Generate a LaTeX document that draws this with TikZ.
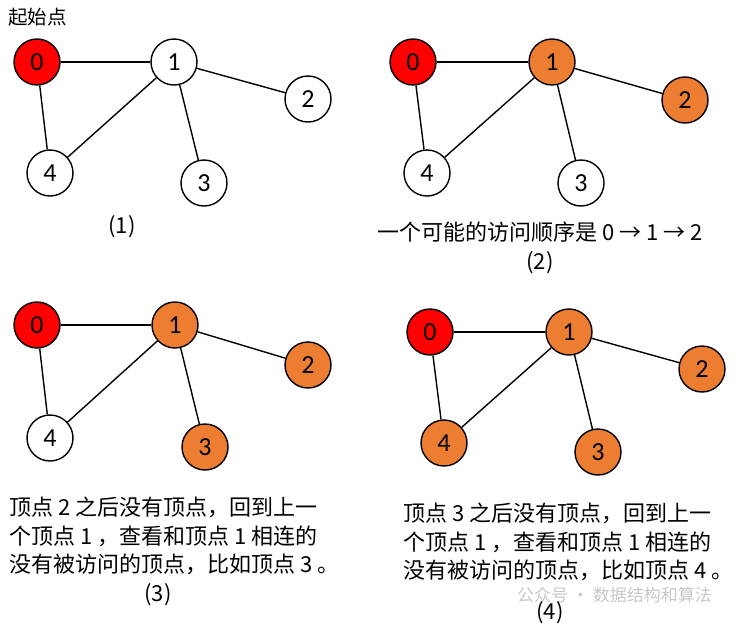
\documentclass[tikz,border=0pt]{standalone}
\usepackage{fontspec}
\setmainfont{Carlito}
\newfontfamily\cjk{Noto Sans CJK SC}
\usepackage{tikz}
\usetikzlibrary{positioning}
\definecolor{myred}{RGB}{255,0,0}
\definecolor{myorange}{RGB}{237,125,49}
\definecolor{mygray}{RGB}{200,200,200}
\tikzset{
  vnode/.style={circle, draw=black, fill=white, line width=1.4pt,
    minimum size=46pt, inner sep=0pt, font=\fontsize{26}{26}\selectfont},
  startnode/.style={vnode, fill=myred},
  donenode/.style={vnode, fill=myorange},
  edge/.style={line width=1.4pt, color=black},
  caption/.style={font=\cjk\fontsize{22}{24}\selectfont, inner sep=0pt},
  notes/.style={font=\cjk\fontsize{22}{28.5}\selectfont, align=left,
    anchor=north west, inner sep=0pt}
}

\begin{document}
\begin{tikzpicture}[x=1pt, y=-1pt]
  \useasboundingbox (0,0) rectangle (736,625);

  % (1) start
  \node[caption, anchor=west, font=\cjk\fontsize{19.5}{20}\selectfont] (start) at (8,17) {起始点};
  \node[startnode] (a0) at (37,62) {0};
  \node[vnode] (a1) at (174,62) {1};
  \node[vnode] (a2) at (308,99) {2};
  \node[vnode] (a3) at (204,183) {3};
  \node[vnode] (a4) at (50,173) {4};
  \draw[edge] (a0) -- (a1);
  \draw[edge] (a0) -- (a4);
  \draw[edge] (a1) -- (a2);
  \draw[edge] (a1) -- (a3);
  \draw[edge] (a1) -- (a4);
  \node[caption] (capa) at (122,227) {(1)};

  % (2) 0 -> 1 -> 2
  \node[startnode] (b0) at (413,62) {0};
  \node[donenode] (b1) at (552,62) {1};
  \node[donenode] (b2) at (685,100) {2};
  \node[vnode] (b3) at (581,183) {3};
  \node[vnode] (b4) at (427,173) {4};
  \draw[edge] (b0) -- (b1);
  \draw[edge] (b0) -- (b4);
  \draw[edge] (b1) -- (b2);
  \draw[edge] (b1) -- (b3);
  \draw[edge] (b1) -- (b4);
  \node[caption] (textb) at (540,232) {一个可能的访问顺序是 0 → 1 → 2};
  \node[caption] (capb) at (540,263) {(2)};

  % (3) back to 1, then 3
  \node[startnode] (c0) at (37,325) {0};
  \node[donenode] (c1) at (175,325) {1};
  \node[donenode] (c2) at (308,365) {2};
  \node[donenode] (c3) at (205,447) {3};
  \node[vnode] (c4) at (50,438) {4};
  \draw[edge] (c0) -- (c1);
  \draw[edge] (c0) -- (c4);
  \draw[edge] (c1) -- (c2);
  \draw[edge] (c1) -- (c3);
  \draw[edge] (c1) -- (c4);
  \node[notes] (textc) at (9,497) {顶点 2 之后没有顶点，回到上一\\个顶点 1 ，查看和顶点 1 相连的\\没有被访问的顶点，比如顶点 3 。};
  \node[caption] (capc) at (158,595) {(3)};

  % (4) back to 1, then 4
  \node[startnode] (d0) at (430,332) {0};
  \node[donenode] (d1) at (569,332) {1};
  \node[donenode] (d2) at (702,369) {2};
  \node[donenode] (d3) at (598,452) {3};
  \node[donenode] (d4) at (444,443) {4};
  \draw[edge] (d0) -- (d1);
  \draw[edge] (d0) -- (d4);
  \draw[edge] (d1) -- (d2);
  \draw[edge] (d1) -- (d3);
  \draw[edge] (d1) -- (d4);
  \node[notes] (textd) at (403,503) {顶点 3 之后没有顶点，回到上一\\个顶点 1 ，查看和顶点 1 相连的\\没有被访问的顶点，比如顶点 4 。};
  \node[caption, text=mygray, anchor=east, font=\cjk\fontsize{17}{18}\selectfont] (mark) at (712,595) {公众号 · 数据结构和算法};
  \node[caption] (capd) at (550,613) {(4)};
\end{tikzpicture}
\end{document}
